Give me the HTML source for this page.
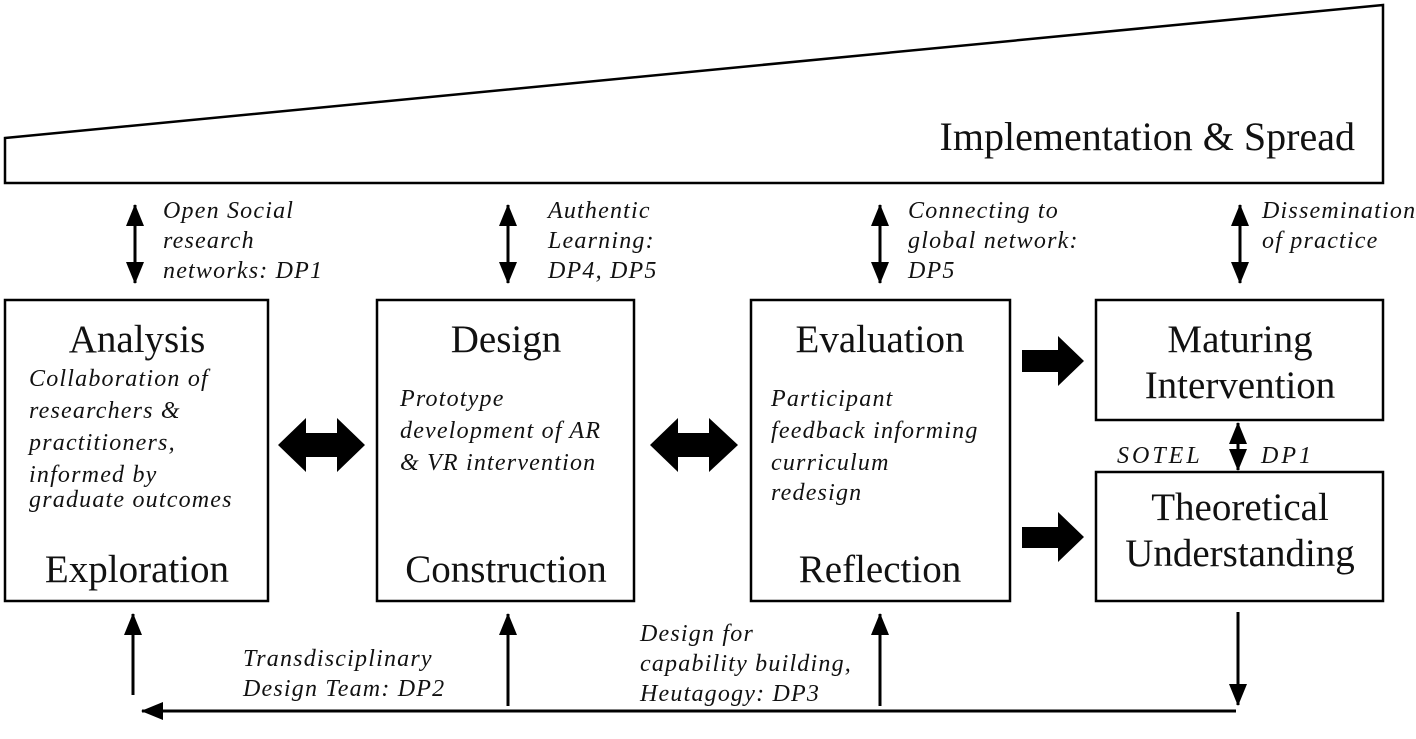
<!DOCTYPE html>
<html><head><meta charset="utf-8"><style>
html,body{margin:0;padding:0;background:#fff}
svg{display:block}
text{font-family:"Liberation Serif",serif;fill:#111}
.t{font-size:39px;text-anchor:middle}
.i{font-size:24px;font-style:italic;letter-spacing:1.2px}
</style></head><body>
<svg width="1416" height="739" viewBox="0 0 1416 739">
<defs>
<marker id="a" markerWidth="22" markerHeight="18" refX="21" refY="9" orient="auto-start-reverse" markerUnits="userSpaceOnUse"><path d="M0,0L22,9L0,18z" fill="#000"/></marker>
</defs>
<polygon points="5,138 1383,5 1383,183 5,183" fill="#fff" stroke="#000" stroke-width="2.5"/>
<text x="1355" y="150" style="font-size:40px;text-anchor:end">Implementation &amp; Spread</text>

<g fill="none" stroke="#000" stroke-width="2.5">
<rect x="5" y="300" width="263" height="301"/>
<rect x="377" y="300" width="257" height="301"/>
<rect x="751" y="300" width="259" height="301"/>
<rect x="1096" y="300" width="287" height="120"/>
<rect x="1096" y="472" width="287" height="129"/>
</g>

<g stroke="#000" stroke-width="3" fill="none">
<line x1="135" y1="205" x2="135" y2="283" marker-start="url(#a)" marker-end="url(#a)"/>
<line x1="508" y1="205" x2="508" y2="283" marker-start="url(#a)" marker-end="url(#a)"/>
<line x1="880" y1="205" x2="880" y2="283" marker-start="url(#a)" marker-end="url(#a)"/>
<line x1="1240" y1="205" x2="1240" y2="283" marker-start="url(#a)" marker-end="url(#a)"/>
<line x1="1238" y1="423" x2="1238" y2="470" marker-start="url(#a)" marker-end="url(#a)"/>
<line x1="133" y1="695" x2="133" y2="614" marker-end="url(#a)"/>
<line x1="508" y1="706" x2="508" y2="614" marker-end="url(#a)"/>
<line x1="880" y1="706" x2="880" y2="614" marker-end="url(#a)"/>
<line x1="1238" y1="612" x2="1238" y2="705" marker-end="url(#a)"/>
<line x1="1236" y1="711" x2="142" y2="711" marker-end="url(#a)"/>
</g>

<g fill="#000">
<path d="M278,445 L306,418 L306,433 L337,433 L337,418 L365,445 L337,472 L337,457 L306,457 L306,472 Z"/>
<path d="M650,445 L678,418 L678,433 L709,433 L709,418 L738,445 L709,472 L709,457 L678,457 L678,472 Z"/>
<path d="M1022,350 L1058,350 L1058,336 L1084,361 L1058,386 L1058,372 L1022,372 Z"/>
<path d="M1022,527 L1058,527 L1058,512 L1084,537 L1058,562 L1058,548 L1022,548 Z"/>
</g>

<text class="t" x="137" y="352">Analysis</text>
<text class="t" x="137" y="582">Exploration</text>
<text class="t" x="506" y="352">Design</text>
<text class="t" x="506" y="582">Construction</text>
<text class="t" x="880" y="352">Evaluation</text>
<text class="t" x="880" y="582">Reflection</text>
<text class="t" x="1240" y="352">Maturing</text>
<text class="t" x="1240" y="398">Intervention</text>
<text class="t" x="1240" y="520">Theoretical</text>
<text class="t" x="1240" y="566">Understanding</text>

<text class="i" x="29" y="386">Collaboration of</text>
<text class="i" x="29" y="418">researchers &amp;</text>
<text class="i" x="29" y="450">practitioners,</text>
<text class="i" x="29" y="482">informed by</text>
<text class="i" x="29" y="507">graduate outcomes</text>
<text class="i" x="400" y="406">Prototype</text>
<text class="i" x="400" y="438">development of AR</text>
<text class="i" x="400" y="470">&amp; VR intervention</text>
<text class="i" x="771" y="406">Participant</text>
<text class="i" x="771" y="438">feedback informing</text>
<text class="i" x="771" y="470">curriculum</text>
<text class="i" x="771" y="500">redesign</text>
<text class="i" x="163" y="218">Open Social</text>
<text class="i" x="163" y="248">research</text>
<text class="i" x="163" y="278">networks: DP1</text>
<text class="i" x="548" y="218">Authentic</text>
<text class="i" x="548" y="248">Learning:</text>
<text class="i" x="548" y="278">DP4, DP5</text>
<text class="i" x="908" y="218">Connecting to</text>
<text class="i" x="908" y="248">global network:</text>
<text class="i" x="908" y="278">DP5</text>
<text class="i" x="1262" y="218">Dissemination</text>
<text class="i" x="1262" y="248">of practice</text>
<text class="i" x="1117" y="463" style="letter-spacing:3px">SOTEL</text>
<text class="i" x="1261" y="463" style="letter-spacing:3px">DP1</text>
<text class="i" x="243" y="666">Transdisciplinary</text>
<text class="i" x="243" y="696">Design Team: DP2</text>
<text class="i" x="640" y="641">Design for</text>
<text class="i" x="640" y="671">capability building,</text>
<text class="i" x="640" y="701">Heutagogy: DP3</text>
</svg>
</body></html>
